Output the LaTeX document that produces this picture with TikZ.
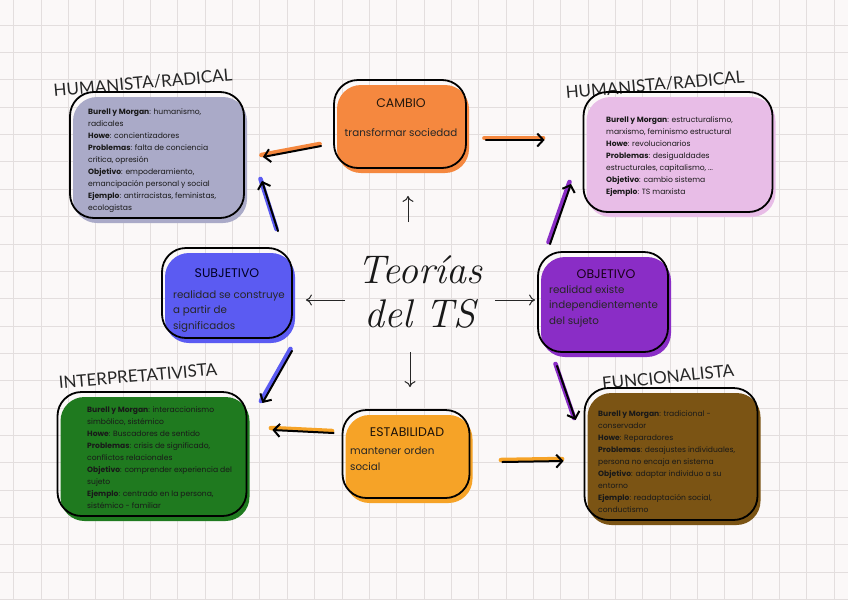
\documentclass[tikz,border=0pt]{standalone}
\usepackage{fontspec}
\setmainfont{Poppins}
\newfontfamily\headfont{Lato}
\usetikzlibrary{arrows.meta}

\definecolor{paper}{HTML}{FBF8F8}
\definecolor{gridline}{HTML}{E3DEDE}
\definecolor{cambiofill}{HTML}{F5883F}
\definecolor{estabfill}{HTML}{F6A327}
\definecolor{subjfill}{HTML}{5B5BF2}
\definecolor{objfill}{HTML}{8A2DC6}
\definecolor{hrlfill}{HTML}{AAAAC8}
\definecolor{hrrfill}{HTML}{E8BDE7}
\definecolor{interpfill}{HTML}{1F7A1F}
\definecolor{funcfill}{HTML}{7B5414}

\begin{document}
\begin{tikzpicture}[x=1pt,y=-1pt,
  blob/.style={draw=black,line width=1.8pt,rounded corners=24pt,inner sep=0pt,
    preaction={fill=#1,draw=none,transform canvas={shift={(3pt,-5pt)}}}},
  head/.style={font=\fontsize{12.5}{14}\selectfont,text=#1,inner sep=0pt},
  lines/.style={font=\fontsize{10.3}{15.5}\selectfont,align=left,anchor=north west,inner sep=0pt,text=black!85},
  notes/.style={font=\fontsize{7.6}{12}\selectfont,align=left,anchor=north west,inner sep=0pt,text=black!90},
  tag/.style={font=\headfont\fontsize{17}{17}\selectfont,rotate=#1,text=black!85},
  link/.style={black,line width=2pt,line cap=round,-{Straight Barb[length=6pt,width=13pt]},
    preaction={draw=#1,arrows=-,line width=4.5pt,line cap=round,transform canvas={shift={(-1.5pt,2pt)}}}},
  pointer/.style={-{To[length=6pt,width=11pt]},line width=1pt,black!85}
]
\useasboundingbox (0,0) rectangle (848,600);
\fill[paper] (0,0) rectangle (848,600);
\foreach \i in {0,...,30}
  \draw[gridline,line width=0.6pt] (13.6+27.35*\i,0) -- (13.6+27.35*\i,600);
\foreach \j in {1,...,22}
  \draw[gridline,line width=0.6pt] (0,-2.35+27.35*\j) -- (848,-2.35+27.35*\j);

% title
\node[font=\fontfamily{lmr}\itshape\fontsize{40}{44}\selectfont,align=center,text=black!90] (title) at (420,292) {Teorías\\del TS};

% middle boxes
\node[blob=cambiofill,minimum width=132,minimum height=88] (cambio) at (400,124) {};
\node[head=black!80!brown] (cambiohead) at (401,103) {CAMBIO};
\node[font=\fontsize{10.3}{12}\selectfont,inner sep=0pt,text=black!85] (cambiotext) at (401,133) {transformar sociedad};

\node[blob=subjfill,minimum width=130,minimum height=90] (subj) at (227,293) {};
\node[head=black!85!blue] (subjhead) at (227,273) {SUBJETIVO};
\node[lines] (subjtext) at (173,290) {realidad se construye\\a partir de\\significados};

\node[blob=objfill,minimum width=130,minimum height=100] (obj) at (603,302) {};
\node[head=black!80!violet] (objhead) at (606,274) {OBJETIVO};
\node[lines] (objtext) at (549,285) {realidad existe\\independientemente\\del sujeto};

\node[blob=estabfill,minimum width=127,minimum height=88] (estab) at (406,454) {};
\node[head=black!85!brown] (estabhead) at (407,432) {ESTABILIDAD};
\node[lines] (estabtext) at (350,447) {mantener orden\\social};

% paradigm boxes
\node[tag=5] (hrltag) at (143,83) {HUMANISTA/RADICAL};
\node[blob=hrlfill,minimum width=174,minimum height=126] (hrl) at (157,155) {};
\node[notes] (hrltext) at (88,109) {\textbf{Burell y Morgan}: humanismo,\\radicales\\\textbf{Howe}: concientizadores\\\textbf{Problemas}: falta de conciencia\\crítica, opresión\\\textbf{Objetivo}: empoderamiento,\\emancipación personal y social\\\textbf{Ejemplo}: antirracistas, feministas,\\ecologistas};

\node[tag=5] (hrrtag) at (655,85) {HUMANISTA/RADICAL};
\node[blob=hrrfill,minimum width=189,minimum height=120] (hrr) at (678,152) {};
\node[notes] (hrrtext) at (606,117) {\textbf{Burell y Morgan}: estructuralismo,\\marxismo, feminismo estructural\\\textbf{Howe}: revolucionarios\\\textbf{Problemas}: desigualdades\\estructurales, capitalismo, ...\\\textbf{Objetivo}: cambio sistema\\\textbf{Ejemplo}: TS marxista};

\node[tag=5] (interptag) at (138,376) {INTERPRETATIVISTA};
\node[blob=interpfill,minimum width=189,minimum height=124] (interp) at (152,454) {};
\node[notes] (interptext) at (87,407) {\textbf{Burell y Morgan}: interaccionismo\\simbólico, sistémico\\\textbf{Howe}: Buscadores de sentido\\\textbf{Problemas}: crisis de significado,\\conflictos relacionales\\\textbf{Objetivo}: comprender experiencia del\\sujeto\\\textbf{Ejemplo}: centrado en la persona,\\sistémico - familiar};

\node[tag=6] (functag) at (668,377) {FUNCIONALISTA};
\node[blob=funcfill,minimum width=173,minimum height=132] (func) at (671,454) {};
\node[notes] (functext) at (598,411) {\textbf{Burell y Morgan}: tradicional -\\conservador\\\textbf{Howe}: Reparadores\\\textbf{Problemas}: desajustes individuales,\\persona no encaja en sistema\\\textbf{Objetivo}: adaptar individuo a su\\entorno\\\textbf{Ejemplo}: readaptación social,\\conductismo};

% title pointers
\draw[pointer] ([shift={(-12,-70)}]title.center) -- ([shift={(8,27)}]cambio.south);
\draw[pointer] ([shift={(-75,8)}]title.center) -- ([shift={(13,7)}]subj.east);
\draw[pointer] ([shift={(75,8)}]title.center) -- ([shift={(-2,-2)}]obj.west);
\draw[pointer] ([shift={(-10,60)}]title.center) -- ([shift={(4,-22)}]estab.north);

% thick links
\draw[link=cambiofill] ([shift={(-12,22)}]cambio.west) -- ([shift={(18,2)}]hrl.east);
\draw[link=cambiofill] ([shift={(19,16)}]cambio.east) -- ([shift={(-38,-12)}]hrr.west);
\draw[link=subjfill] ([shift={(51,-16)}]subj.north) -- ([shift={(105,-38)}]hrl.south);
\draw[link=subjfill] ([shift={(65,12)}]subj.south) -- ([shift={(15,-51)}]interp.east);
\draw[link=objfill] ([shift={(-53,-7)}]obj.north) -- ([shift={(-107,-29)}]hrr.south);
\draw[link=objfill] ([shift={(-46,13)}]obj.south) -- ([shift={(-8,-34)}]func.west);
\draw[link=estabfill] ([shift={(-8,-21)}]estab.west) -- ([shift={(25,-24)}]interp.east);
\draw[link=estabfill] ([shift={(32,8)}]estab.east) -- ([shift={(-20,7)}]func.west);
\end{tikzpicture}
\end{document}
